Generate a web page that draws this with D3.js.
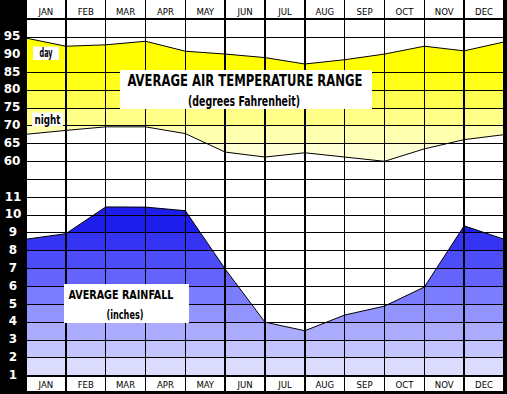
<!DOCTYPE html>
<html><head><meta charset="utf-8">
<script src="https://cdn.jsdelivr.net/npm/d3@7"></script>
<style>html,body{margin:0;padding:0;background:#000;overflow:hidden}</style>
</head><body><svg id="c" width="507" height="394"></svg>
<script>
// ---- data (values read at month boundaries: start of each month, last = end of DEC) ----
const months = ["JAN","FEB","MAR","APR","MAY","JUN","JUL","AUG","SEP","OCT","NOV","DEC"];
const dayTemp   = [94.7, 92.4, 92.8, 93.8, 91.0, 90.2, 89.2, 87.4, 88.6, 90.2, 92.4, 91.1, 93.6];
const nightTemp = [67.6, 68.7, 69.7, 69.7, 67.8, 62.6, 61.2, 62.4, 61.2, 60.0, 63.5, 66.1, 67.5];
const rainfall  = [8.65, 8.96, 10.46, 10.45, 10.25, 6.98, 4.0, 3.52, 4.4, 4.9, 5.97, 9.4, 8.65];
const tempTicks = [95, 90, 85, 80, 75, 70, 65, 60];
const tempGrid  = [100, 95, 85, 80, 75, 70, 65, 60, 55];
const rainTicks = [11, 10, 9, 8, 7, 6, 5, 4, 3, 2, 1];
const tempTitle = ["AVERAGE AIR TEMPERATURE RANGE", "(degrees Fahrenheit)"];
const rainTitle = ["AVERAGE RAINFALL", "(inches)"];

const W = 507, H = 394, L = 26, R = 504, B = 391;
const svg = d3.select("#c");
const narrow = "'DejaVu Sans Condensed','Liberation Sans Narrow','DejaVu Sans',sans-serif";

const x = d3.scaleLinear().domain([0, 12]).range([L, R]);
const xb = d3.scaleBand().domain(months).range([L, R]);
const yT = d3.scaleLinear().domain([60, 95]).range([161.3, 37]);
const yR = d3.scaleLinear().domain([1, 11]).range([375.7, 197.3]);

svg.append("rect").attr("width", W).attr("height", H).attr("fill", "#000");
svg.append("rect").attr("x", L).attr("y", 0).attr("width", R - L).attr("height", B).attr("fill", "#fff");

// gradients (stepped bands)
const defs = svg.append("defs");
function stepGrad(id, y1, y2, edges, colors) {
  const g = defs.append("linearGradient").attr("id", id)
    .attr("gradientUnits", "userSpaceOnUse").attr("x1", 0).attr("x2", 0).attr("y1", y1).attr("y2", y2);
  colors.forEach((c, i) => {
    const a = (edges[i] - y1) / (y2 - y1), b = (edges[i + 1] - y1) / (y2 - y1);
    g.append("stop").attr("offset", a).attr("stop-color", c);
    g.append("stop").attr("offset", b).attr("stop-color", c);
  });
}
const yEdges = [30, yT(85), yT(80), yT(75), yT(70), yT(65), 170].map(Number);
stepGrad("yel", 30, 170, yEdges, ["#ffff00", "#ffff18", "#ffff50", "#ffff88", "#ffffb0", "#ffffd4"]);
const rEdges = [190].concat(rainTicks.slice(2).map(v => yR(v)));
rEdges[rEdges.length - 1] = 380;
stepGrad("blu", 190, 380, rEdges, ["#1e1eec", "#3434f2", "#4c4cf8", "#6464fc", "#7c7cff", "#9494ff", "#acacff", "#c4c4ff", "#dcdcff"]);

// fills
svg.append("path").datum(dayTemp)
  .attr("d", d3.area().x((d, i) => x(i)).y1(d => yT(d)).y0((d, i) => yT(nightTemp[i])))
  .attr("fill", "url(#yel)");
svg.append("path").datum(rainfall)
  .attr("d", d3.area().x((d, i) => x(i)).y1(d => yR(d)).y0(yR(1)))
  .attr("fill", "url(#blu)");

// grid
const g = svg.append("g").attr("stroke", "#000").attr("shape-rendering", "crispEdges");
tempGrid.forEach(v => g.append("line").attr("x1", L).attr("x2", R).attr("y1", yT(v)).attr("y2", yT(v)).attr("stroke-width", v === 100 ? 2 : 1));
rainTicks.forEach(v => g.append("line").attr("x1", L).attr("x2", R).attr("y1", yR(v)).attr("y2", yR(v)).attr("stroke-width", v === 1 ? 2 : 1));
d3.range(13).forEach(i => g.append("line").attr("x1", x(i)).attr("x2", x(i)).attr("y1", 0).attr("y2", B).attr("stroke-width", 1.5));

// data lines
const lineStyle = p => p.attr("fill", "none").attr("stroke", "#000").attr("stroke-width", 1);
svg.append("path").datum(dayTemp).attr("d", d3.line().x((d, i) => x(i)).y(d => yT(d))).call(lineStyle);
svg.append("path").datum(nightTemp).attr("d", d3.line().x((d, i) => x(i)).y(d => yT(d))).call(lineStyle);
svg.append("path").datum(rainfall).attr("d", d3.line().x((d, i) => x(i)).y(d => yR(d))).call(lineStyle);

// month labels (top and bottom)
[15, 388].forEach(yy => {
  svg.append("g").selectAll("text").data(months).join("text")
    .attr("x", d => xb(d) + xb.bandwidth() / 2).attr("y", yy)
    .attr("text-anchor", "middle").attr("font-family", narrow).attr("font-size", 9.5)
    .attr("fill", "#000").text(d => d);
});

// y labels
const yl = svg.append("g").attr("font-family", "'DejaVu Sans',sans-serif").attr("font-weight", "bold")
  .attr("font-size", 12).attr("fill", "#fff").attr("text-anchor", "middle");
tempTicks.forEach(v => yl.append("text").attr("x", 12).attr("y", yT(v) - 1).attr("dy", "0.35em").text(v));
rainTicks.forEach(v => yl.append("text").attr("x", 13).attr("y", yR(v) - 1).attr("dy", "0.35em").text(v));

// boxes
function box(x0, y0, w, h) { svg.append("rect").attr("x", x0).attr("y", y0).attr("width", w).attr("height", h).attr("fill", "#fff"); }
function txt(s, cx, y, size, len) {
  const t = svg.append("text").attr("x", cx).attr("y", y).attr("text-anchor", "middle")
    .attr("font-family", narrow).attr("font-weight", "bold").attr("font-size", size).attr("fill", "#000").text(s);
  if (len) t.attr("textLength", len).attr("lengthAdjust", "spacingAndGlyphs");
}
box(33, 46.5, 26, 13.5); txt("day", 46, 57, 12, 13);
box(32, 112.5, 31, 13.5); txt("night", 47.5, 123.5, 12, 26);
box(120, 70, 252, 39);
txt(tempTitle[0], 245, 85.5, 16, 235);
txt(tempTitle[1], 244, 105.5, 14, 112);
box(64, 284, 125, 39);
txt(rainTitle[0], 121, 299, 13, 105);
txt(rainTitle[1], 125, 318.5, 12, 37);
</script></body></html>
